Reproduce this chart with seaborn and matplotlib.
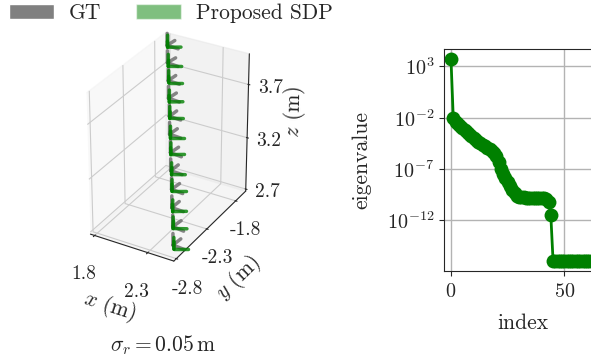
import numpy as np
import matplotlib
matplotlib.use("Agg")
import matplotlib.pyplot as plt
import seaborn as sns
import pandas as pd
from matplotlib.patches import Patch

sns.set_style("ticks")
plt.rcParams["font.family"] = ["cmr10", "DejaVu Serif"]
plt.rcParams["mathtext.fontset"] = "cm"
plt.rcParams["axes.formatter.use_mathtext"] = True
plt.rcParams["font.size"] = 15.5

# poses (m) and yaw (deg), ground truth and estimate
gt_x = [2.48, 2.42, 2.36, 2.30, 2.24, 2.18, 2.12, 2.06, 2.00, 1.94, 1.88, 1.82]
gt_y = [-2.75, -2.65, -2.56, -2.46, -2.37, -2.27, -2.18, -2.08, -1.99, -1.89, -1.80, -1.70]
gt_z = [2.76, 2.86, 2.97, 3.07, 3.18, 3.28, 3.39, 3.49, 3.60, 3.70, 3.81, 3.91]
gt_yaw = [-5, -8, -3, -6, -4, -7, -5, -3, -6, -4, -8, -5]

est_x = [2.50, 2.43, 2.38, 2.31, 2.26, 2.19, 2.14, 2.07, 2.02, 1.95, 1.90, 1.83]
est_y = [-2.77, -2.66, -2.58, -2.47, -2.39, -2.28, -2.20, -2.09, -2.01, -1.90, -1.82, -1.71]
est_z = [2.74, 2.85, 2.95, 3.06, 3.16, 3.27, 3.37, 3.48, 3.58, 3.69, 3.79, 3.90]
est_yaw = [30, 28, 32, 30, 29, 31, 30, 28, 32, 30, 29, 31]

# sorted eigenvalues of the SDP solution
eig_values = [5.0e3, 1.0e-2, 4.0e-3, 2.5e-3, 1.6e-3, 1.0e-3, 6.3e-4, 4.0e-4,
              2.5e-4, 1.6e-4, 1.0e-4, 6.3e-5, 4.5e-5, 3.2e-5, 2.2e-5, 1.6e-5,
              1.1e-5, 7.9e-6, 5.6e-6, 3.5e-6, 2.0e-6, 5.0e-7, 1.0e-7, 3.2e-8,
              1.3e-8, 5.0e-9, 2.0e-9, 7.9e-10, 4.0e-10, 2.5e-10, 2.0e-10, 1.8e-10,
              1.8e-10, 1.6e-10, 1.6e-10, 1.6e-10, 1.6e-10, 1.4e-10, 1.4e-10, 1.3e-10,
              1.3e-10, 1.3e-10, 1.1e-10, 6.3e-11, 3.2e-12] + [1.0e-16] * 19
eig_index = list(range(len(eig_values)))

fig = plt.figure(figsize=(5.91, 3.62), dpi=100)

# 3D trajectory
ax = fig.add_axes([-0.02, 0.16, 0.6, 0.86], projection="3d")
L = 0.11


def rot_z(deg):
    a = np.deg2rad(deg)
    return np.array([[np.cos(a), -np.sin(a), 0], [np.sin(a), np.cos(a), 0], [0, 0, 1]])


def draw_pose(p, R, color, alpha):
    for k in range(3):
        e = p + L * R[:, k]
        ax.plot([p[0], e[0]], [p[1], e[1]], [p[2], e[2]], color=color, alpha=alpha, lw=2.5)


for i in range(len(gt_x)):
    draw_pose(np.array([gt_x[i], gt_y[i], gt_z[i]]), rot_z(gt_yaw[i]), "dimgray", 0.8)
    draw_pose(np.array([est_x[i], est_y[i], est_z[i]]), rot_z(est_yaw[i]), "green", 0.8)

ax.set_xlim(1.76, 2.54)
ax.set_ylim(-2.84, -1.62)
ax.set_zlim(2.68, 3.98)
ax.set_box_aspect((0.78, 1.22, 1.30), zoom=0.75)
ax.set_xticks([1.8, 2.3])
ax.set_xticklabels(["1.8", "2.3"], fontsize=14)
ax.set_yticks([-2.8, -2.3, -1.8])
ax.set_yticklabels(["-2.8", "-2.3", "-1.8"], fontsize=14)
ax.set_zticks([2.7, 3.2, 3.7])
ax.set_zticklabels(["2.7", "3.2", "3.7"], fontsize=14)
ax.tick_params(axis="x", pad=9)
ax.tick_params(axis="y", pad=7)
ax.tick_params(axis="z", pad=9)
ax.zaxis.set_ticks_position("upper")
ax.zaxis.set_label_position("upper")
ax.set_xlabel(r"$x$ (m)", labelpad=12)
ax.set_ylabel(r"$y$ (m)", labelpad=18)
ax.set_zlabel(r"$z$ (m)", labelpad=15)
fig.text(0.275, 0.047, r"$\sigma_r = 0.05\,\mathrm{m}$", ha="center", va="center")

# eigenvalues
ax2 = fig.add_axes([0.751, 0.251, 0.266, 0.613])
df = pd.DataFrame({"index": eig_index, "eigenvalue": eig_values})
sns.lineplot(data=df, x="index", y="eigenvalue", ax=ax2, color="green",
             marker="o", markersize=10, markeredgewidth=0, linewidth=2)
ax2.set_yscale("log")
ax2.set_yticks([1e3, 1e-2, 1e-7, 1e-12])
ax2.minorticks_off()
ax2.set_xticks([0, 50])
ax2.tick_params(labelsize=14.5)
ax2.tick_params(axis="x", pad=5)
ax2.set_xlabel("index", labelpad=9)
ax2.set_ylabel("eigenvalue", labelpad=11)
ax2.grid(True, color="0.7", linewidth=1)
ax2.set_axisbelow(True)

handles = [Patch(facecolor="gray", label="GT"),
           Patch(facecolor="green", alpha=0.5, label="Proposed SDP")]
fig.legend(handles=handles, loc="upper left", bbox_to_anchor=(0.0, 1.015), ncol=2,
           frameon=False, handlelength=2.1, handletextpad=0.7, columnspacing=1.6,
           borderaxespad=0.0)

fig.savefig("out.png", dpi=100)
